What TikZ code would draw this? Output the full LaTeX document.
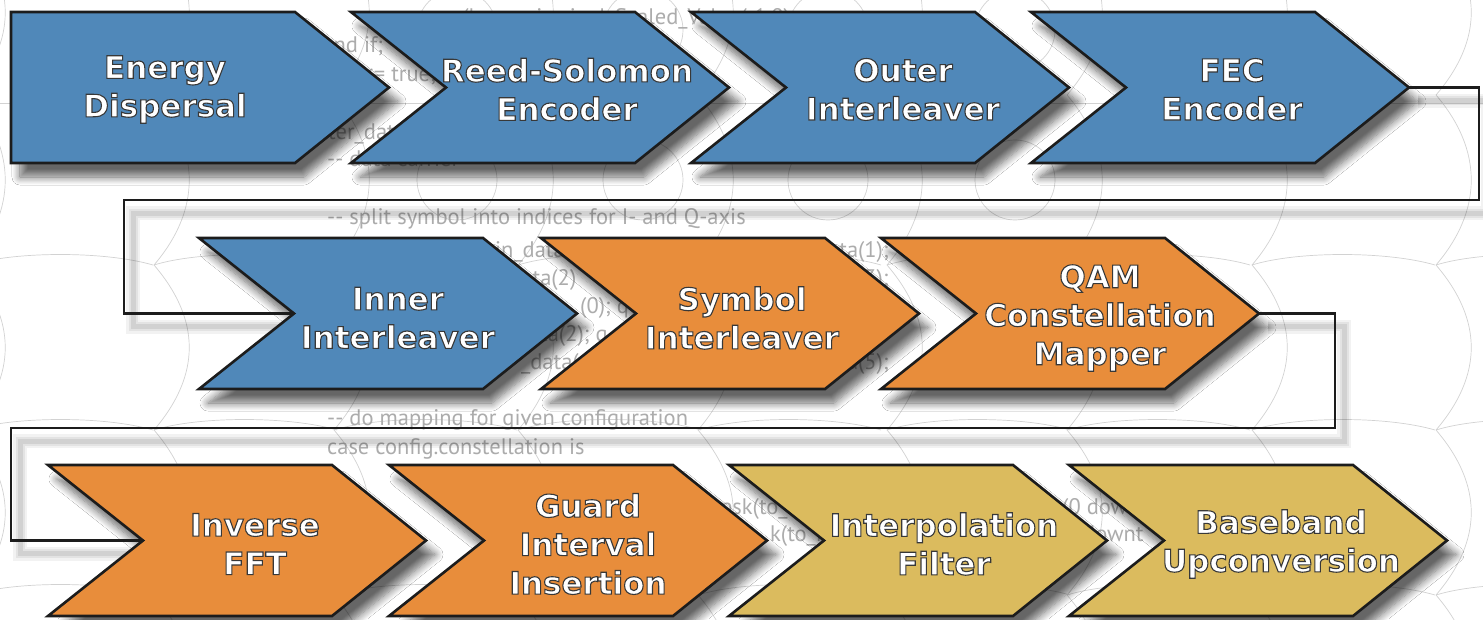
\documentclass[tikz,border=0pt]{standalone}
\usepackage{fontspec}
\setmainfont{DejaVu Sans}
\newfontfamily\codefont{PT Sans}
\usetikzlibrary{shadows.blur}
\definecolor{cblue}{HTML}{5088B9}
\definecolor{corange}{HTML}{E88D3B}
\definecolor{cgold}{HTML}{DBBB5E}
\definecolor{codecol}{HTML}{ACACAC}
\definecolor{bgline}{HTML}{D2D2D2}
\definecolor{edge}{HTML}{1C1C1C}
% outlined text: white fill, dark stroke
\newcommand\ol[1]{\special{pdf:literal direct 2 Tr 0.22 G 1.1 w}#1\special{pdf:literal direct 0 Tr}}
\tikzset{
  chev/.style={draw=edge, line width=2.6pt, line join=miter,
    blur shadow={shadow xshift=9pt, shadow yshift=-14pt, shadow blur radius=8pt,
                 shadow blur steps=10, shadow opacity=60}},
  lab/.style={text=white, font=\bfseries\fontsize{31}{38.5}\selectfont, align=center, inner sep=0pt},
  code/.style={text=codecol, font=\codefont\fontsize{22.5}{27}\selectfont, inner sep=0pt, anchor=base west},
  conn/.style={line width=2.4pt, draw=edge, line join=miter},
  bg/.style={draw=bgline, line width=0.7pt}
}
% notched chevron: name, left x, top y, colour
\newcommand\chevN[4]{%
  \path[chev, fill=#4] (#2,#3) -- ++(284,0) -- ++(94,75.5) -- ++(-94,75.5) -- ++(-284,0) -- ++(95,-75.5) -- cycle;
  \coordinate (#1-tip) at ({#2+378},{#3+75.5});
  \coordinate (#1-notch) at ({#2+95},{#3+75.5});}
% plain-left chevron
\newcommand\chevP[4]{%
  \path[chev, fill=#4] (#2,#3) -- ++(284,0) -- ++(94,75.5) -- ++(-94,75.5) -- ++(-284,0) -- cycle;
  \coordinate (#1-tip) at ({#2+378},{#3+75.5});}
\begin{document}
\begin{tikzpicture}[x=1pt,y=-1pt]
\useasboundingbox (0,0) rectangle (1483,619);
\fill[white] (0,0) rectangle (1483,619);
% ---------- background pattern ----------
\begin{scope}
\clip (0,0) rectangle (1483,619);
\foreach \xc in {5,189,369,553,733,922,1102,1287,1471}{
  \foreach \ya/\yb in {-70/95,95/265,265/430,430/595,595/760}{
    \draw[bg] ({\xc-35},\ya) .. controls ({\xc+12},{\ya+55}) and ({\xc+12},{\yb-55}) .. ({\xc-35},\yb);
  }
  \foreach \yy in {265,430,595}{
    \draw[bg] ({\xc-35},\yy) .. controls ({\xc+10},{\yy-14}) and ({\xc+100},{\yy-14}) .. ({\xc+148},\yy);
  }
}
\foreach \xc in {457,643,828,1015}{
  \draw[bg] (\xc,30) circle (40);
  \draw[bg] (\xc,180) circle (40);
}
\draw[bg] (0,103) -- (1483,103);
\end{scope}
% ---------- background code text ----------
\node[code, anchor=base east] (k0) at (790,24) {(l\_max, i\_min, l\_Scaled\_Value(-1.0)};
\node[code] (k1) at (322,52) {end if;};
\node[code] (k2) at (320,81) {flag <= true;};
\node[code] (k3) at (322,139) {iter\_data};
\node[code] (k4) at (327,166) {-{}- data carrier};
\node[code] (k5) at (327,224) {-{}- split symbol into indices for I- and Q-axis};
\node[code] (k6) at (495,257) {in\_data(5)};
\node[code, anchor=base east] (k6b) at (889,257) {in\_data(1);};
\node[code] (k7) at (500,285) {\_data(2)};
\node[code, anchor=base east] (k7b) at (889,285) {in\_data(3);};
\node[code] (k8) at (580,313) {(0); q};
\node[code] (k9) at (540,341) {ta(2); q};
\node[code] (k10) at (521,369) {\_data(4)};
\node[code, anchor=base east] (k10b) at (889,369) {in\_data(5);};
\node[code] (k11) at (327,425) {-{}- do mapping for given configuration};
\node[code] (k12) at (327,454) {case config.constellation is};
\node[code] (k13) at (708,514) {qpsk(to\_};
\node[code] (k14) at (770,541) {k(to\_i};
\node[code] (k15) at (1062,514) {(0 dow};
\node[code] (k16) at (1083,541) {downt};
% ---------- connector shadows ----------
\begin{scope}[shift={(9,13)}]
\foreach \w/\o in {14/0.05,9/0.06,5/0.08}{
  \draw[line width=\w pt, black, opacity=\o, line join=miter]
    (1409,87.5) -- (1479,87.5) -- (1479,200) -- (124,200) -- (124,313.5) -- (294,313.5);
  \draw[line width=\w pt, black, opacity=\o, line join=miter]
    (1259,313.5) -- (1335,313.5) -- (1335,428) -- (11,428) -- (11,540.5) -- (143,540.5);
}
\end{scope}
% ---------- chevrons ----------
\chevP{ed}{11}{12}{cblue}
\chevN{rs}{351}{12}{cblue}
\chevN{oi}{691}{12}{cblue}
\chevN{fec}{1031}{12}{cblue}
\chevN{ii}{199}{238}{cblue}
\chevN{si}{541}{238}{corange}
\chevN{qam}{881}{238}{corange}
\chevN{fft}{48}{465}{corange}
\chevN{gi}{389}{465}{corange}
\chevN{ip}{729}{465}{cgold}
\chevN{bu}{1069}{465}{cgold}
% ---------- labels ----------
\node[lab] (ed) at (165,89.5) {\ol{Energy}\\\ol{Dispersal}};
\node[lab] (rs) at (567,89.5) {\ol{Reed-Solomon}\\\ol{Encoder}};
\node[lab] (oi) at (903,89.5) {\ol{Outer}\\\ol{Interleaver}};
\node[lab] (fec) at (1232,89.5) {\ol{FEC}\\\ol{Encoder}};
\node[lab] (ii) at (398,318) {\ol{Inner}\\\ol{Interleaver}};
\node[lab] (si) at (742,318) {\ol{Symbol}\\\ol{Interleaver}};
\node[lab] (qam) at (1100,318) {\ol{QAM}\\\ol{Constellation}\\\ol{Mapper}};
\node[lab] (fft) at (255,544) {\ol{Inverse}\\\ol{FFT}};
\node[lab] (gi) at (588,544) {\ol{Guard}\\\ol{Interval}\\\ol{Insertion}};
\node[lab] (ip) at (944,544) {\ol{Interpolation}\\\ol{Filter}};
\node[lab] (bu) at (1281,544) {\ol{Baseband}\\\ol{Upconversion}};
% ---------- connectors ----------
\coordinate (a1) at (1479,87.5);
\coordinate (a2) at (1479,200);
\coordinate (a3) at (124,200);
\coordinate (a4) at (124,313.5);
\draw[conn] (fec-tip) -- (a1) -- (a2) -- (a3) -- (a4) -- (ii-notch);
\coordinate (b1) at (1335,313.5);
\coordinate (b2) at (1335,428);
\coordinate (b3) at (11,428);
\coordinate (b4) at (11,540.5);
\draw[conn] (qam-tip) -- (b1) -- (b2) -- (b3) -- (b4) -- (fft-notch);
\end{tikzpicture}
\end{document}
